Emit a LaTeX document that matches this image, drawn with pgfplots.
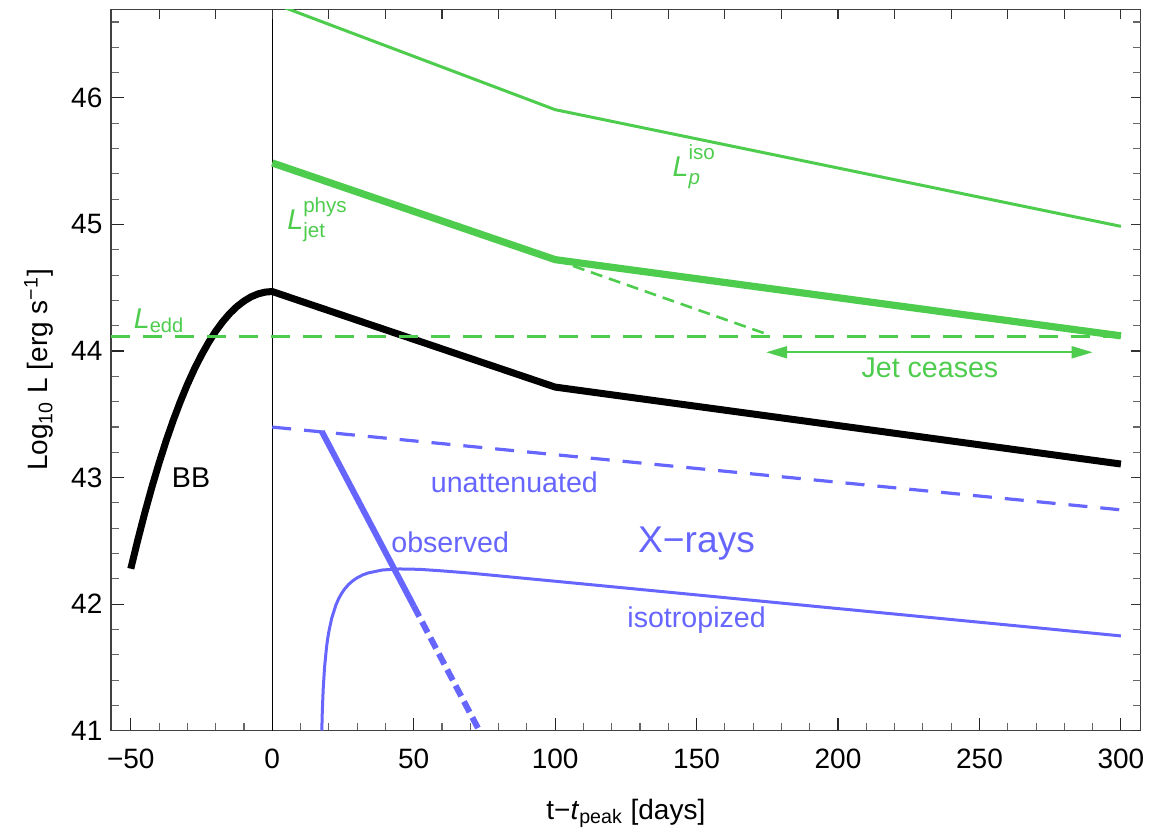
\documentclass[border=0pt]{standalone}
\usepackage{fontspec}
\setmainfont{Liberation Sans}
\usepackage{pgfplots}
\pgfplotsset{compat=1.18}
\usetikzlibrary{arrows.meta}
\definecolor{mgreen}{RGB}{77,204,77}
\definecolor{mblue}{RGB}{102,102,255}
\newcommand{\Lss}[2]{\textit{L}\rlap{\raisebox{-0.28em}{\fontsize{10.3}{10.3}\selectfont #1}}\raisebox{0.58em}{\fontsize{10.3}{10.3}\selectfont #2}}
\begin{document}
\begin{tikzpicture}
\begin{axis}[
  width=514.85pt, height=360.7pt, scale only axis,
  xmin=-57, xmax=307, ymin=41, ymax=46.7,
  xtick={-50,0,50,100,150,200,250,300},
  xticklabels={−50,0,50,100,150,200,250,300},
  minor xtick={-40,-30,-20,-10,10,20,30,40,60,70,80,90,110,120,130,140,160,170,180,190,210,220,230,240,260,270,280,290},
  ytick={41,42,43,44,45,46},
  yticklabels={41,42,43,44,45,46},
  minor ytick={41.2,41.4,41.6,41.8,42.2,42.4,42.6,42.8,43.2,43.4,43.6,43.8,44.2,44.4,44.6,44.8,45.2,45.4,45.6,45.8,46.2,46.4,46.6},
  xtick pos=lower, ytick pos=left,
  tick align=inside,
  major tick length=6.5pt, minor tick length=4pt,
  axis line style={black!75, line width=0.7pt},
  major tick style={black!85, line width=0.55pt},
  minor tick style={black!60, line width=0.55pt},
  tick label style={font=\fontsize{14}{16}\selectfont},
  xticklabel style={anchor=base, yshift=-18.65pt},
  yticklabel style={xshift=-0.8pt},
  xlabel={t−\textit{t}\textsubscript{peak} [days]},
  ylabel={Log\textsubscript{10} L [erg s\textsuperscript{−1}]},
  label style={font=\fontsize{14}{16}\selectfont},
  xlabel style={at={([yshift=-44.15pt]axis description cs:0.5,0)}, anchor=base},
  ylabel style={at={([xshift=-31.5pt]axis description cs:0,0.5)}, anchor=base, rotate=0},
]
% vertical line at t=0
\addplot[black, line width=0.65pt] coordinates {(0,41) (0,46.7)};
% BB
\addplot[black, line width=3.5pt, line join=round] coordinates {
(-50,42.28) (-47.5,42.51) (-45,42.726) (-42.5,42.928) (-40,43.116) (-37.5,43.291)
(-35,43.452) (-32.5,43.600) (-30,43.736) (-27.5,43.859) (-25,43.969) (-22.5,44.068)
(-20,44.156) (-17.5,44.232) (-15,44.297) (-12.5,44.351) (-10,44.394) (-7.5,44.428)
(-5,44.4515) (-2.5,44.4654) (0,44.47) (100,43.715) (300,43.107)};
% L_edd
\addplot[mgreen, line width=1.5pt, dash pattern=on 9.5pt off 6.5pt] coordinates {(-57,44.115) (300,44.115)};
% L_p^iso
\addplot[mgreen, line width=1.5pt] coordinates {(0,46.75) (100,45.907) (300,44.985)};
% L_jet^phys
\addplot[mgreen, line width=3.6pt] coordinates {(0,45.486) (100,44.722) (300,44.12)};
% jet ceases extension
\addplot[mgreen, line width=1.3pt, dash pattern=on 6pt off 3.5pt] coordinates {(100,44.722) (174,44.14)};
% arrow
\addplot[mgreen, line width=0.9pt, {Triangle[length=10.5pt,width=6pt]}-{Triangle[length=10.5pt,width=6pt]}] coordinates {(174.6,43.99) (290,43.99)};
% X-rays unattenuated
\addplot[mblue, line width=1.6pt, dash pattern=on 9.5pt off 6.5pt] coordinates {(0,43.399) (300,42.745)};
% X-rays observed
\addplot[mblue, line width=3pt] coordinates {(17.5,43.365) (50,41.986)};
\addplot[mblue, line width=3pt, dash pattern=on 6pt off 3pt] coordinates {(50,41.986) (73.2,41.0)};
% X-rays isotropized
\addplot[mblue, line width=1.5pt, line join=round] coordinates {
(17.515,41.0) (17.7,41.155) (18.0,41.324) (18.5,41.503) (19.2,41.662) (19.6,41.728)
(20,41.782) (21,41.887) (22.5,41.993) (23.5,42.044) (24.5,42.084) (25.5,42.117)
(27,42.156) (28.5,42.185) (30,42.208) (32,42.231) (34,42.247) (39,42.270) (45,42.278)
(52,42.275) (60,42.263) (70,42.245) (85,42.213) (100,42.181) (150,42.073)
(200,41.965) (250,41.857) (300,41.749)};
% labels
\node[mgreen, font=\fontsize{14.3}{16}\selectfont, anchor=base west, inner sep=0pt] at (axis cs:141.4,45.38) {\Lss{\textit{p}}{iso}};
\node[mgreen, font=\fontsize{14.3}{16}\selectfont, anchor=base west, inner sep=0pt] at (axis cs:5.2,44.96) {\Lss{jet}{phys}};
\node[mgreen, font=\fontsize{14.3}{16}\selectfont] at (axis cs:-40,44.24) {\textit{L}\textsubscript{edd}};
\node[mgreen, font=\fontsize{14.3}{16}\selectfont] at (axis cs:232.5,43.87) {Jet ceases};
\node[black, font=\fontsize{14.3}{16}\selectfont] at (axis cs:-28.7,43.0) {BB};
\node[mblue, font=\fontsize{14.3}{16}\selectfont] at (axis cs:85.6,42.96) {unattenuated};
\node[mblue, font=\fontsize{14.3}{16}\selectfont] at (axis cs:62.9,42.49) {observed};
\node[mblue, font=\fontsize{18.6}{20}\selectfont] at (axis cs:150,42.48) {X−rays};
\node[mblue, font=\fontsize{14.3}{16}\selectfont] at (axis cs:150,41.87) {isotropized};
\end{axis}
\begin{axis}[
  width=514.85pt, height=360.7pt, scale only axis,
  xmin=-57, xmax=307, ymin=41, ymax=46.7,
  axis line style={draw=none},
  xtick pos=upper, ytick pos=right, tick align=inside,
  xtick={-40,-20,0,20,40,60,80,100,120,140,160,180,200,220,240,260,280,300},
  xticklabels={},
  ytick={41,42,43,44,45,46}, yticklabels={},
  minor ytick={41.2,41.4,41.6,41.8,42.2,42.4,42.6,42.8,43.2,43.4,43.6,43.8,44.2,44.4,44.6,44.8,45.2,45.4,45.6,45.8,46.2,46.4,46.6},
  major tick length=5pt, minor tick length=3.8pt,
  major tick style={black!80, line width=0.55pt},
  minor tick style={black!60, line width=0.55pt},
]
\addplot[draw=none] coordinates {(0,42)};
\end{axis}
\pgfresetboundingbox
\path[use as bounding box] (-55.5pt,-48.65pt) rectangle (527pt,365.35pt);
\end{tikzpicture}
\end{document}
